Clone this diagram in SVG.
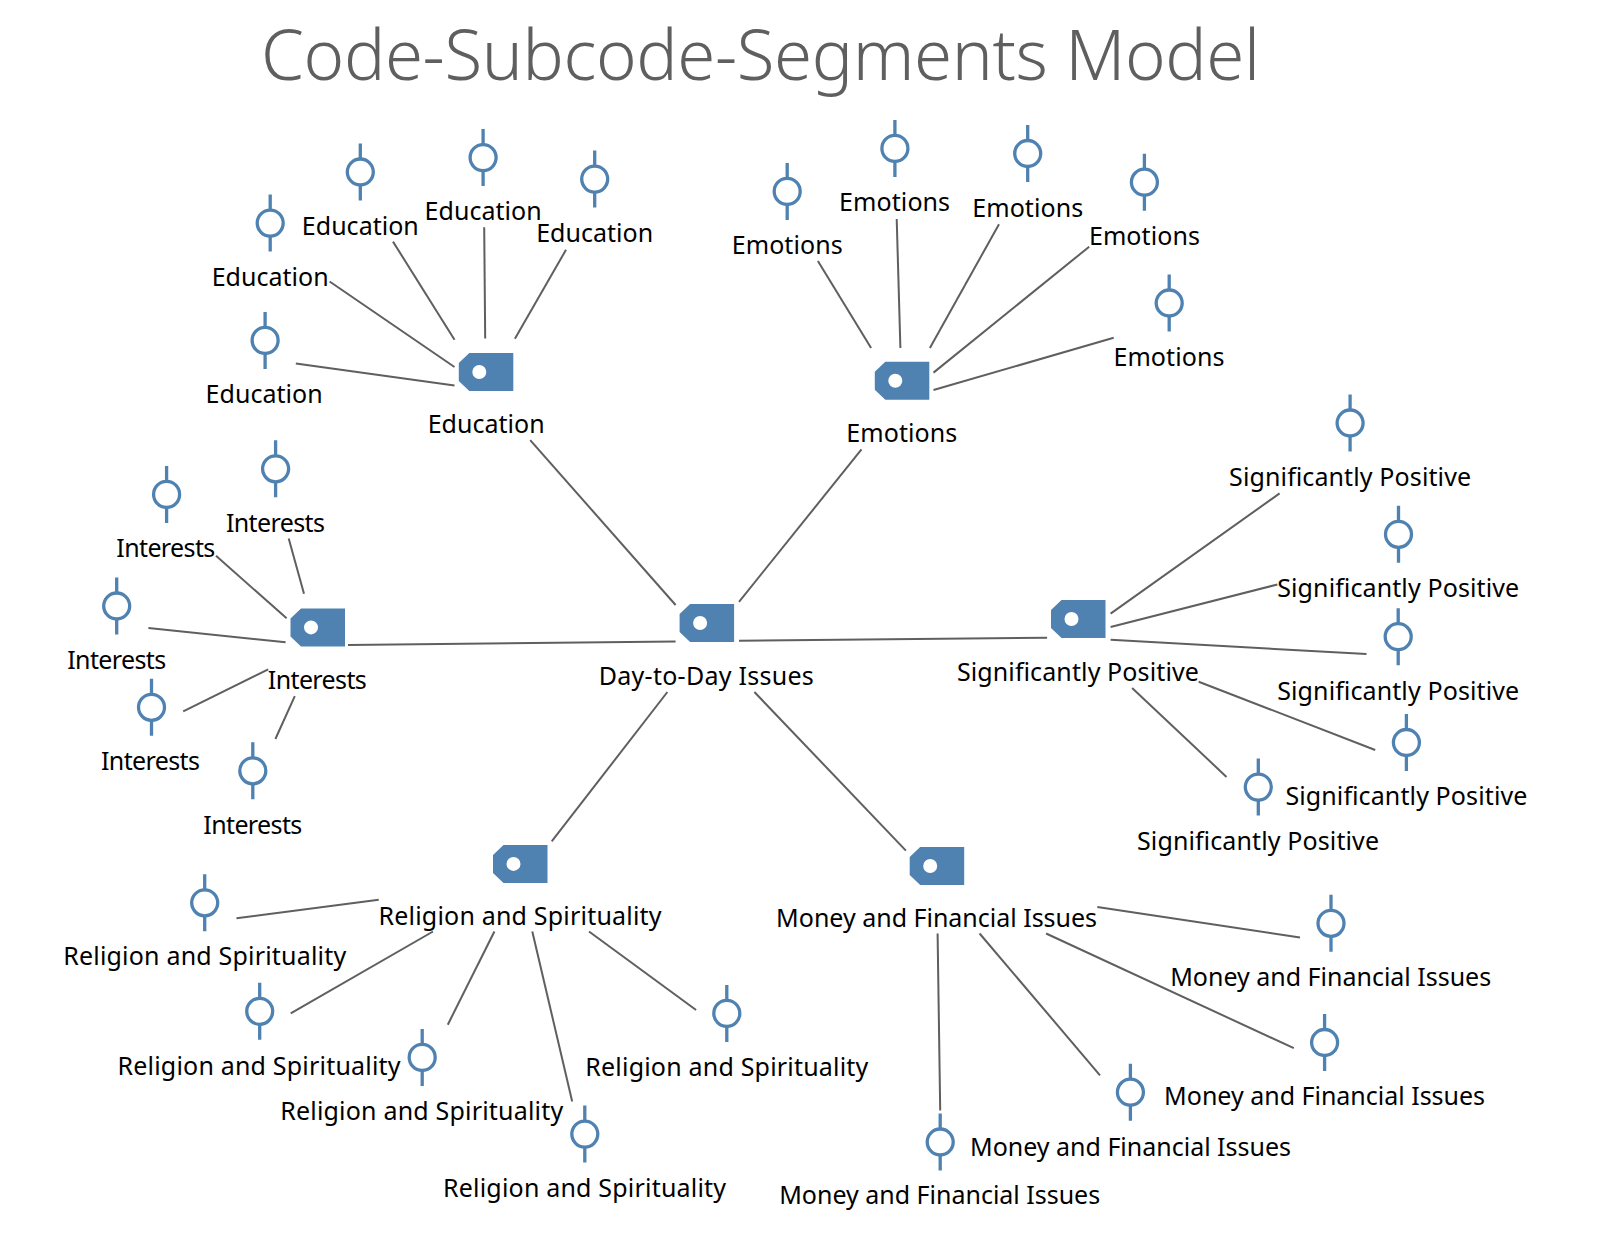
<svg xmlns="http://www.w3.org/2000/svg" xmlns:xlink="http://www.w3.org/1999/xlink" width="1605" height="1252" viewBox="0 0 1605 1252">
<style>
text{font-family:"Noto Sans","Open Sans","Liberation Sans",sans-serif;fill:#000;text-anchor:middle}
.l{font-size:25px}
.t{font-size:69px;fill:#5f5f5f;font-weight:300}
#connectors line{stroke:#5f5f5f;stroke-width:2}
.tag{fill:#4f82b0}
.seg{fill:none;stroke:#4f82b0;stroke-width:3.300}
</style>
<defs>
<g id="tag"><path class="tag" fill-rule="evenodd" d="M-10 -19H34V19H-10L-20.500 9V-9ZM7 0A7 7 0 1 0 -7 0A7 7 0 1 0 7 0Z"/></g>
<g id="seg"><circle class="seg" r="13"/><path class="seg" d="M0 -28.500V-13M0 13V28.500"/></g>
</defs>
<rect width="1605" height="1252" fill="#fff"/>
<text id="title" class="t" x="760.500" y="80" textLength="999">Code-Subcode-Segments Model</text>
<g id="connectors">
<line x1="329.600" y1="281.500" x2="454.500" y2="367"/>
<line x1="393" y1="241.600" x2="454.500" y2="339.800"/>
<line x1="484.200" y1="227.200" x2="485.200" y2="338.500"/>
<line x1="566" y1="249.800" x2="514.900" y2="338.800"/>
<line x1="295.800" y1="363.400" x2="454.500" y2="385.500"/>
<line x1="817.900" y1="261" x2="871.100" y2="348"/>
<line x1="896.700" y1="219" x2="900.400" y2="348"/>
<line x1="999" y1="224.200" x2="929.900" y2="348"/>
<line x1="1089.200" y1="246.700" x2="933.500" y2="372.600"/>
<line x1="1113.700" y1="337.800" x2="933.500" y2="390"/>
<line x1="530.200" y1="440.100" x2="675.600" y2="605"/>
<line x1="861.500" y1="449.400" x2="739" y2="601.900"/>
<line x1="348" y1="644.900" x2="675.600" y2="641.400"/>
<line x1="739" y1="640.800" x2="1047.100" y2="637.700"/>
<line x1="667.400" y1="692" x2="551.700" y2="841.400"/>
<line x1="754.400" y1="692" x2="905.900" y2="850.600"/>
<line x1="1110.600" y1="613.600" x2="1279.600" y2="493.400"/>
<line x1="1110.600" y1="627" x2="1277.400" y2="584.500"/>
<line x1="1110.600" y1="639.800" x2="1366.500" y2="654.100"/>
<line x1="1198.700" y1="681.700" x2="1375.200" y2="750"/>
<line x1="1132.100" y1="687.900" x2="1226.500" y2="776.900"/>
<line x1="288.700" y1="538.400" x2="304" y2="593.700"/>
<line x1="216" y1="555.800" x2="286.600" y2="618.300"/>
<line x1="148.400" y1="628" x2="285.600" y2="642.300"/>
<line x1="183.200" y1="711.400" x2="268.200" y2="669.400"/>
<line x1="275.400" y1="739" x2="294.800" y2="696.100"/>
<line x1="378.700" y1="899.700" x2="236.500" y2="918.200"/>
<line x1="433" y1="931.500" x2="290.700" y2="1013.400"/>
<line x1="494.400" y1="931.500" x2="447.800" y2="1024.700"/>
<line x1="532.300" y1="931.500" x2="572.200" y2="1101.400"/>
<line x1="589" y1="931.500" x2="696.100" y2="1010"/>
<line x1="1097.300" y1="906.900" x2="1300" y2="937.600"/>
<line x1="1046.100" y1="933.500" x2="1293.800" y2="1048.200"/>
<line x1="979.600" y1="933.500" x2="1100" y2="1075.300"/>
<line x1="937.600" y1="933.500" x2="940.200" y2="1110.600"/>
</g>
<g id="root"><use href="#tag" x="700.100" y="623"/><text class="l" x="706.300" y="684.600" textLength="215">Day-to-Day Issues</text></g>
<g id="code-education"><use href="#tag" x="479.300" y="372"/><text class="l" x="486.200" y="433" textLength="117">Education</text></g>
<g id="edu-1"><use href="#seg" x="270.200" y="223.100"/><text class="l" x="270.200" y="285.600" textLength="117">Education</text></g>
<g id="edu-2"><use href="#seg" x="360.300" y="172"/><text class="l" x="360.300" y="235" textLength="117">Education</text></g>
<g id="edu-3"><use href="#seg" x="483.100" y="157.600"/><text class="l" x="483.100" y="220.400" textLength="117">Education</text></g>
<g id="edu-4"><use href="#seg" x="594.700" y="179.100"/><text class="l" x="594.700" y="242.200" textLength="117">Education</text></g>
<g id="edu-5"><use href="#seg" x="265.100" y="340.400"/><text class="l" x="264.100" y="403.100" textLength="117">Education</text></g>
<g id="code-emotions"><use href="#tag" x="895.300" y="380.800"/><text class="l" x="901.800" y="442" textLength="111">Emotions</text></g>
<g id="emo-1"><use href="#seg" x="787.200" y="191.400"/><text class="l" x="787.200" y="253.600" textLength="111">Emotions</text></g>
<g id="emo-2"><use href="#seg" x="894.900" y="148.400"/><text class="l" x="894.600" y="210.600" textLength="111">Emotions</text></g>
<g id="emo-3"><use href="#seg" x="1027.700" y="153.500"/><text class="l" x="1027.700" y="216.800" textLength="111">Emotions</text></g>
<g id="emo-4"><use href="#seg" x="1144.400" y="182.200"/><text class="l" x="1144.400" y="245.200" textLength="111">Emotions</text></g>
<g id="emo-5"><use href="#seg" x="1169.200" y="303"/><text class="l" x="1168.900" y="366" textLength="111">Emotions</text></g>
<g id="code-positive"><use href="#tag" x="1071.500" y="619"/><text class="l" x="1077.900" y="680.500" textLength="242">Significantly Positive</text></g>
<g id="pos-1"><use href="#seg" x="1350.100" y="423"/><text class="l" x="1350.100" y="486" textLength="242">Significantly Positive</text></g>
<g id="pos-2"><use href="#seg" x="1398.500" y="534.300"/><text class="l" x="1398.200" y="596.500" textLength="242">Significantly Positive</text></g>
<g id="pos-3"><use href="#seg" x="1398.200" y="636.700"/><text class="l" x="1398.200" y="699.900" textLength="242">Significantly Positive</text></g>
<g id="pos-4"><use href="#seg" x="1406.400" y="742.500"/><text class="l" x="1406.400" y="804.700" textLength="242">Significantly Positive</text></g>
<g id="pos-5"><use href="#seg" x="1258.300" y="787.100"/><text class="l" x="1258" y="850.200" textLength="242">Significantly Positive</text></g>
<g id="code-interests"><use href="#tag" x="311" y="627.400"/><text class="l" x="317.300" y="688.700" textLength="99">Interests</text></g>
<g id="int-1"><use href="#seg" x="275.600" y="468.800"/><text class="l" x="275.400" y="532" textLength="99">Interests</text></g>
<g id="int-2"><use href="#seg" x="166.600" y="494.400"/><text class="l" x="165.800" y="556.600" textLength="99">Interests</text></g>
<g id="int-3"><use href="#seg" x="116.700" y="606"/><text class="l" x="116.700" y="669" textLength="99">Interests</text></g>
<g id="int-4"><use href="#seg" x="151.500" y="707.300"/><text class="l" x="150.500" y="769.500" textLength="99">Interests</text></g>
<g id="int-5"><use href="#seg" x="252.800" y="770.800"/><text class="l" x="252.800" y="834" textLength="99">Interests</text></g>
<g id="code-religion"><use href="#tag" x="513.500" y="863.900"/><text class="l" x="520" y="924.900" textLength="283">Religion and Spirituality</text></g>
<g id="rel-1"><use href="#seg" x="204.700" y="902.800"/><text class="l" x="204.700" y="965.300" textLength="283">Religion and Spirituality</text></g>
<g id="rel-2"><use href="#seg" x="259.700" y="1011.300"/><text class="l" x="259" y="1075" textLength="283">Religion and Spirituality</text></g>
<g id="rel-3"><use href="#seg" x="422.200" y="1057.400"/><text class="l" x="421.700" y="1119.600" textLength="283">Religion and Spirituality</text></g>
<g id="rel-4"><use href="#seg" x="584.800" y="1134.100"/><text class="l" x="584.500" y="1197" textLength="283">Religion and Spirituality</text></g>
<g id="rel-5"><use href="#seg" x="726.800" y="1013.400"/><text class="l" x="726.800" y="1076" textLength="283">Religion and Spirituality</text></g>
<g id="code-money"><use href="#tag" x="930.200" y="866"/><text class="l" x="936.600" y="926.900" textLength="321">Money and Financial Issues</text></g>
<g id="mon-1"><use href="#seg" x="1331" y="923.300"/><text class="l" x="1330.700" y="985.500" textLength="321">Money and Financial Issues</text></g>
<g id="mon-2"><use href="#seg" x="1324.600" y="1042.500"/><text class="l" x="1324.600" y="1105" textLength="321">Money and Financial Issues</text></g>
<g id="mon-3"><use href="#seg" x="1130.400" y="1092.200"/><text class="l" x="1130.500" y="1156.200" textLength="321">Money and Financial Issues</text></g>
<g id="mon-4"><use href="#seg" x="940.200" y="1142"/><text class="l" x="939.700" y="1203.600" textLength="321">Money and Financial Issues</text></g>
</svg>
